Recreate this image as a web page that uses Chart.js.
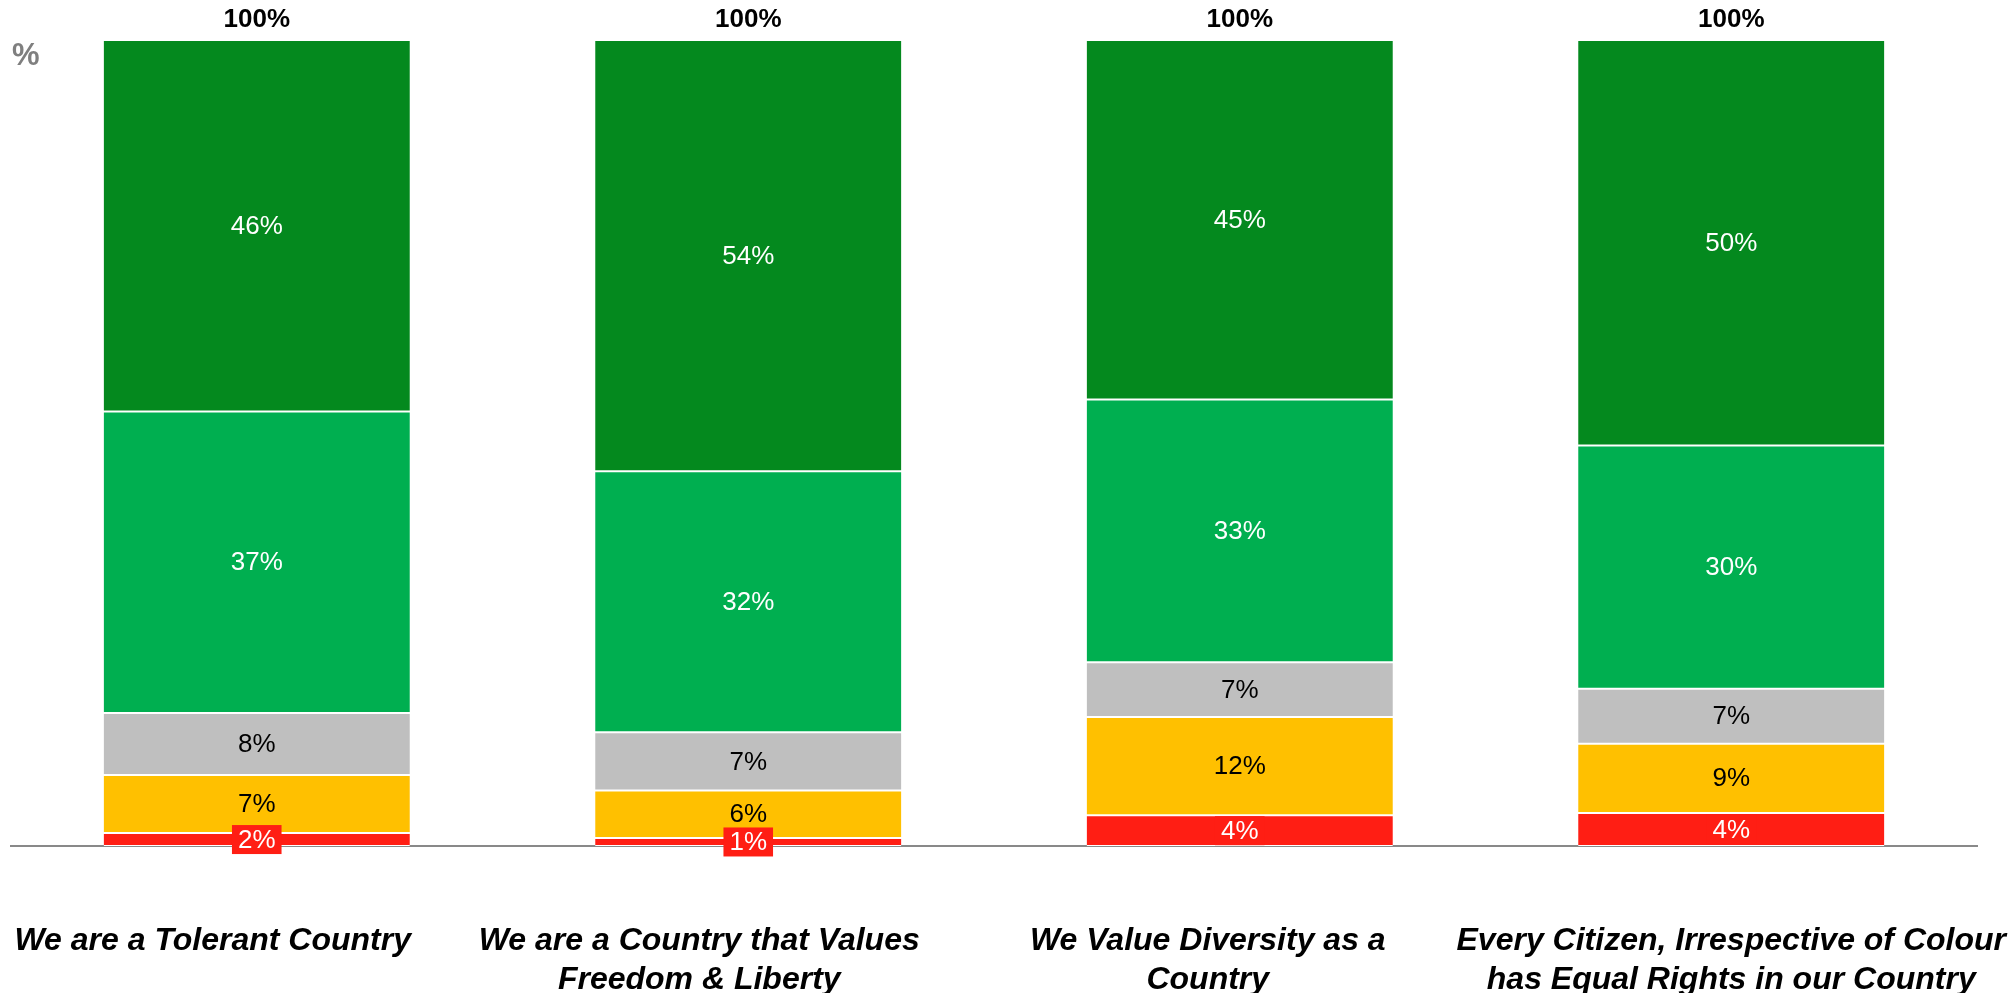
<!DOCTYPE html>
<html>
<head>
<meta charset="utf-8">
<title>Country values</title>
<script src="https://cdn.jsdelivr.net/npm/chart.js@4.4.1/dist/chart.umd.min.js"></script>
<style>
    html, body { margin: 0; padding: 0; background: #ffffff; }
    #chart-container { position: relative; width: 2009px; height: 993px; }
</style>
</head>
<body>
<div id="chart-container">
    <canvas id="values-chart"></canvas>
</div>
<script>
// Categories (each entry is the lines of the label)
const categories = [
    ['We are a Tolerant Country'],
    ['We are a Country that Values', 'Freedom & Liberty'],
    ['We Value Diversity as a', 'Country'],
    ['Every Citizen, Irrespective of Colour', 'has Equal Rights in our Country']
];

// Series, bottom of the stack first (%)
const seriesNames = ['Strongly disagree', 'Disagree', 'Neither', 'Agree', 'Strongly agree'];
const stronglyDisagree = [1.6, 1.0, 3.8, 4.1];
const disagree = [7.2, 5.9, 12.2, 8.6];
const neither = [7.7, 7.2, 6.8, 6.8];
const agree = [37.4, 32.4, 32.6, 30.2];
const stronglyAgree = [46.1, 53.5, 44.6, 50.3];

const seriesColors = ['#ff1e14', '#ffc000', '#bfbfbf', '#00af50', '#04891e'];
const labelColors = ['#ffffff', '#000000', '#000000', '#ffffff', '#ffffff'];

// horizontal nudge of the category labels, as placed on the original slide
const labelShift = [-44, -49, -32, 0];

const FONT = '"Liberation Sans", Arial, sans-serif';

// Draws value labels, stack totals, category labels and the "%" unit mark
const valueLabelsPlugin = {
    id: 'valueLabels',
    afterDatasetsDraw(chart) {
        const ctx = chart.ctx;
        const yScale = chart.scales.y;
        const xScale = chart.scales.x;
        ctx.save();

        // segment labels
        ctx.font = '26px ' + FONT;
        ctx.textAlign = 'center';
        ctx.textBaseline = 'middle';
        chart.data.datasets.forEach((dataset, i) => {
            const meta = chart.getDatasetMeta(i);
            meta.data.forEach((bar, j) => {
                const props = bar.getProps(['x', 'y', 'base'], true);
                const cy = (props.y + props.base) / 2;
                const text = Math.round(dataset.data[j]) + '%';
                if (i === 0) {
                    // red segment gets a box behind its label
                    const w = ctx.measureText(text).width + 12;
                    ctx.fillStyle = seriesColors[0];
                    ctx.fillRect(props.x - w / 2, cy - 14.5, w, 29);
                }
                ctx.fillStyle = labelColors[i];
                ctx.fillText(text, props.x, cy + 1);
            });
        });

        // stack totals
        ctx.font = 'bold 26px ' + FONT;
        ctx.fillStyle = '#000000';
        categories.forEach((cat, j) => {
            let total = 0;
            chart.data.datasets.forEach(ds => { total += ds.data[j]; });
            const x = xScale.getPixelForValue(j);
            const y = yScale.getPixelForValue(total);
            ctx.fillText(Math.round(total) + '%', x, y - 20);
        });

        // category labels
        ctx.font = 'italic bold 32px ' + FONT;
        ctx.textBaseline = 'alphabetic';
        categories.forEach((lines, j) => {
            const x = xScale.getPixelForValue(j) + labelShift[j];
            lines.forEach((line, k) => {
                ctx.fillText(line, x, chart.chartArea.bottom + 104 + k * 39);
            });
        });

        // unit mark
        ctx.font = 'bold 31px ' + FONT;
        ctx.fillStyle = '#7f7f7f';
        ctx.textAlign = 'left';
        ctx.textBaseline = 'middle';
        ctx.fillText('%', 12, 56);

        ctx.restore();
    }
};

document.addEventListener('DOMContentLoaded', function() {
    const canvas = document.getElementById('values-chart');
    const seriesData = [stronglyDisagree, disagree, neither, agree, stronglyAgree];

    const datasets = seriesData.map((values, i) => ({
        label: seriesNames[i],
        data: values,
        backgroundColor: seriesColors[i],
        borderColor: '#ffffff',
        borderWidth: { top: 1, bottom: 1, left: 0, right: 0 },
        borderSkipped: false,
        barPercentage: 0.623,
        categoryPercentage: 1.0
    }));

    new Chart(canvas.getContext('2d'), {
        type: 'bar',
        data: {
            labels: categories.map(lines => lines.join(' ')),
            datasets: datasets
        },
        options: {
            responsive: true,
            maintainAspectRatio: false,
            animation: false,
            layout: {
                padding: {
                    top: 40,
                    left: 11,
                    right: 32,
                    bottom: 147
                }
            },
            scales: {
                x: {
                    stacked: true,
                    grid: {
                        display: false,
                        drawTicks: false
                    },
                    border: {
                        display: true,
                        color: '#898989',
                        width: 2
                    },
                    ticks: {
                        display: false
                    }
                },
                y: {
                    stacked: true,
                    display: false,
                    min: 0,
                    max: 100
                }
            },
            plugins: {
                legend: { display: false },
                tooltip: { enabled: false }
            }
        },
        plugins: [valueLabelsPlugin]
    });
});
</script>
</body>
</html>
